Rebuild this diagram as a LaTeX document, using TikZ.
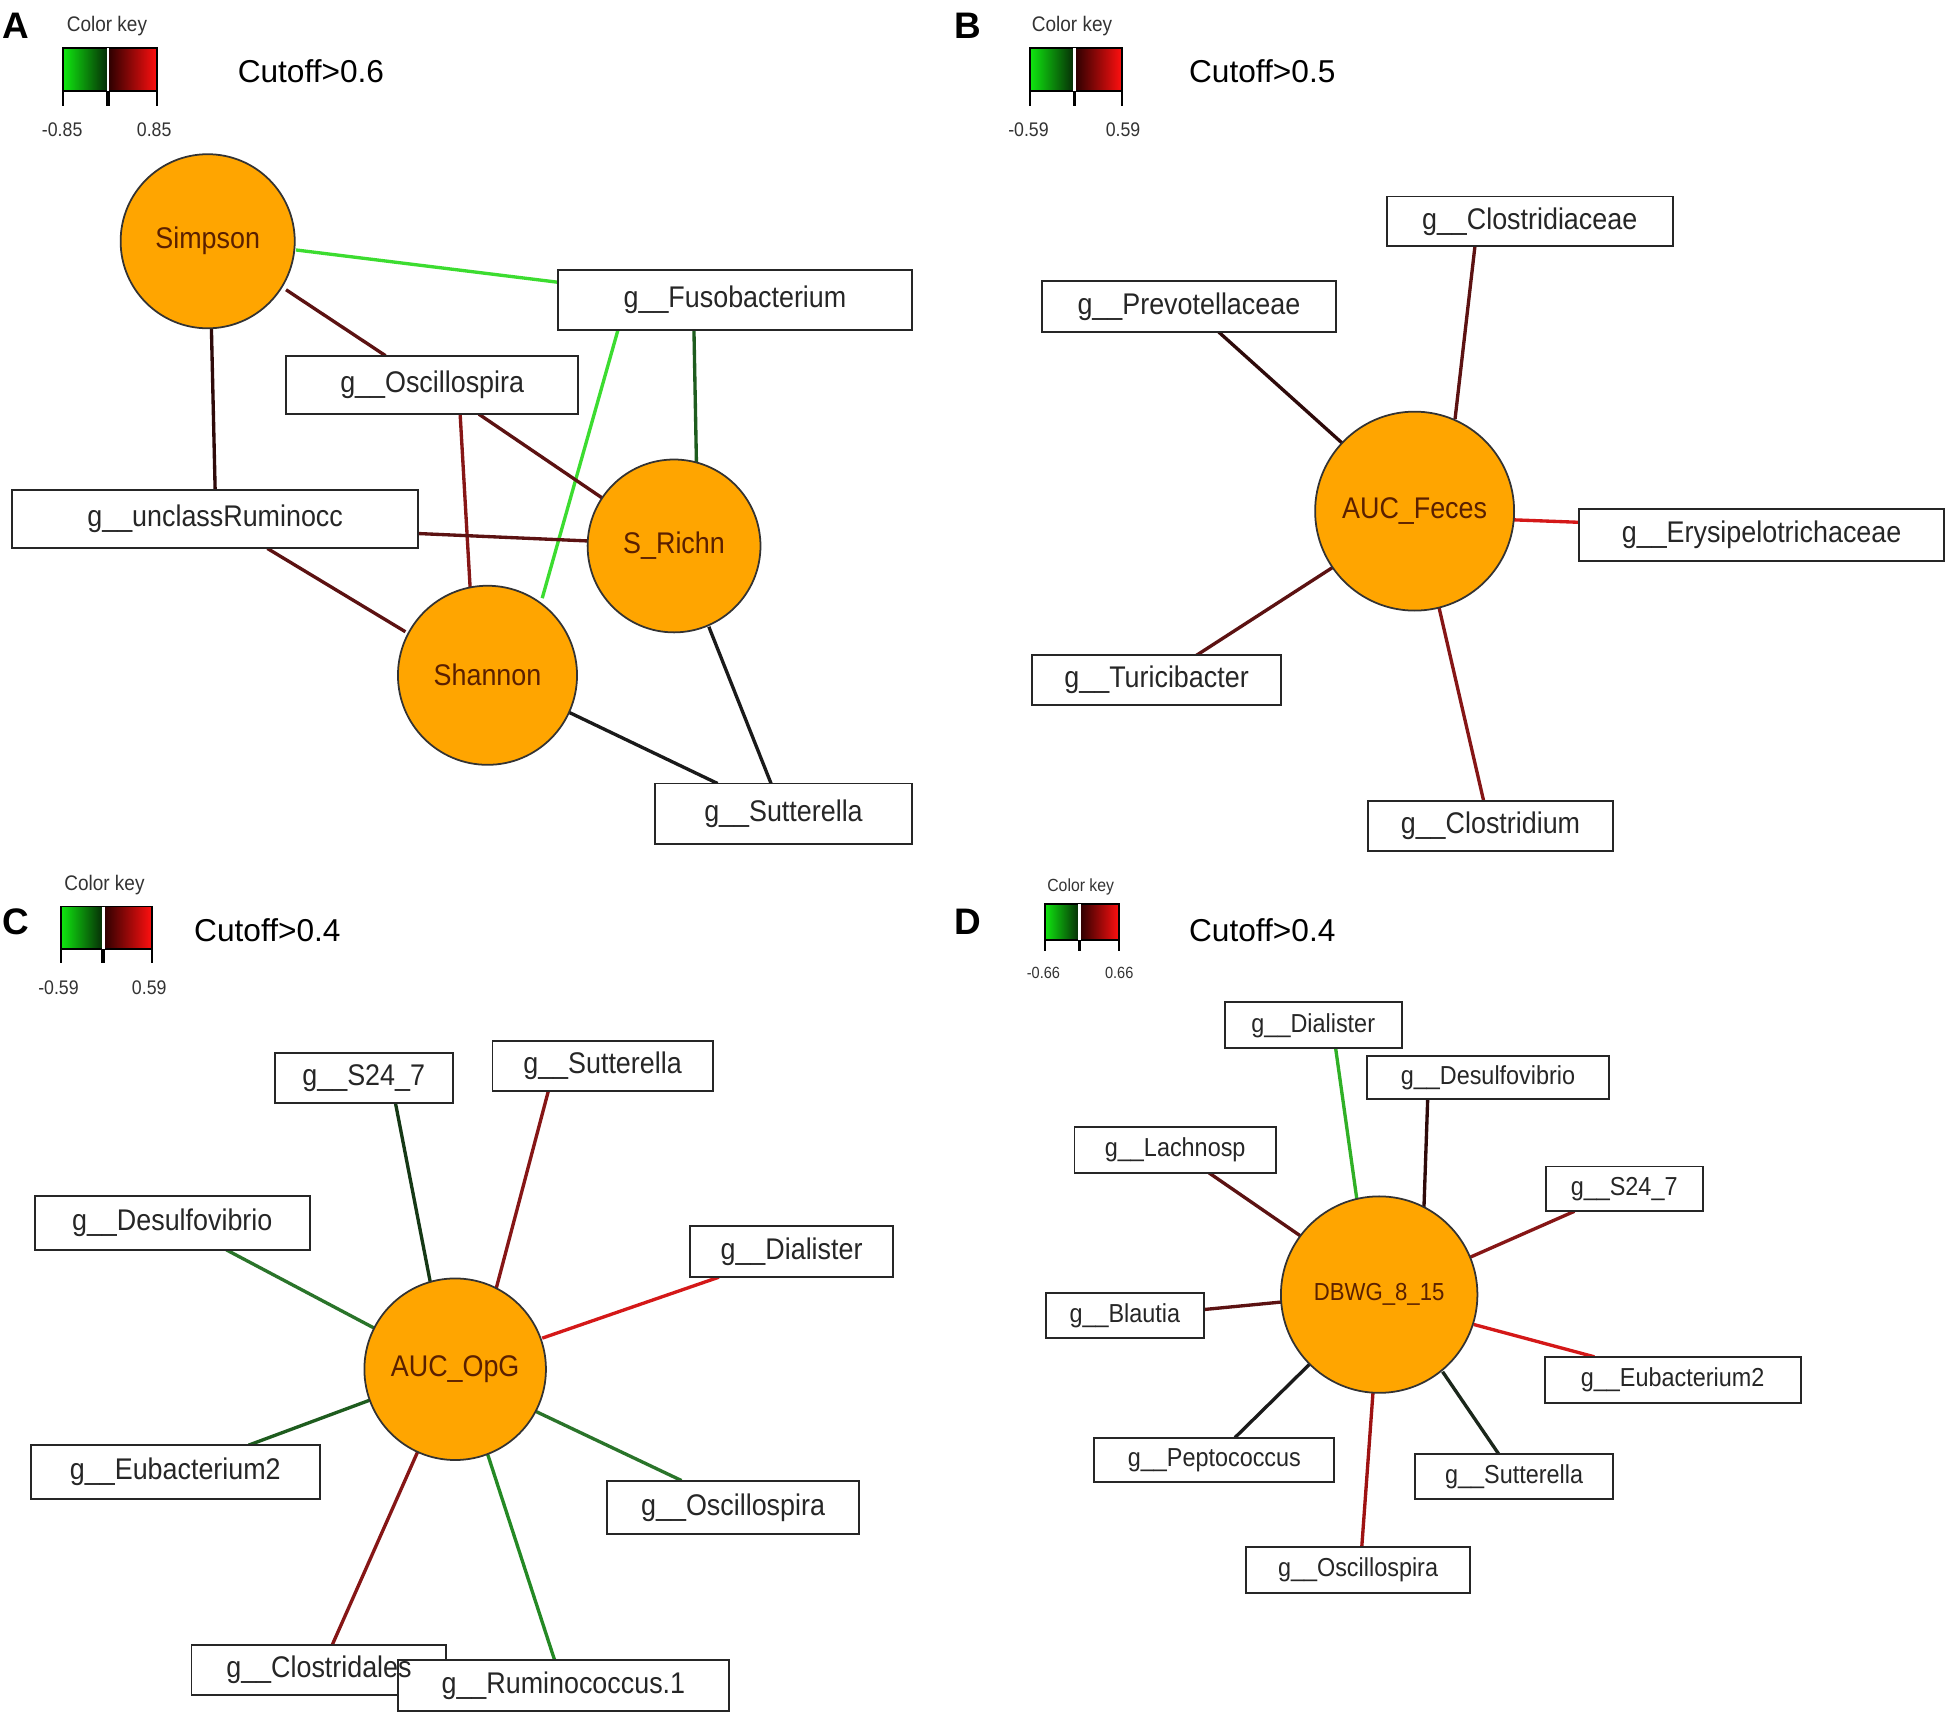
\documentclass[tikz,border=0pt]{standalone}
\usepackage{fontspec}
\setmainfont{Liberation Sans}
\newfontfamily\lblfont[FakeStretch=0.9]{Liberation Sans}
\usetikzlibrary{calc}
\pgfdeclarelayer{paper}
\pgfdeclarelayer{bg}
\pgfsetlayers{paper,bg,main}
\newdimen\dunit \dunit=0.012436cm
\definecolor{orng}{HTML}{FFA500}
\definecolor{ctext}{HTML}{5A2000}
\definecolor{kgL}{HTML}{10E810}
\definecolor{kgR}{HTML}{062A06}
\definecolor{krL}{HTML}{2A0000}
\definecolor{krR}{HTML}{FF1010}
\definecolor{eBG}{HTML}{3CDC30}
\definecolor{eDG}{HTML}{1E5C1E}
\definecolor{eMG}{HTML}{2A742A}
\definecolor{eVG}{HTML}{153815}
\definecolor{eDR}{HTML}{5C1212}
\definecolor{eMR}{HTML}{861616}
\definecolor{eR}{HTML}{D41818}
\definecolor{eVR}{HTML}{2E0A0A}
\definecolor{eBK}{HTML}{1A1A1A}
\begin{document}
\begin{tikzpicture}[x=0.012436cm,y=-0.012436cm,
  bx/.style 2 args={draw=black!85, line width=0.55pt, fill=white, inner sep=0pt,
    minimum width=#1\dunit, minimum height=#2\dunit,
    font=\lblfont\fontsize{8.5}{10}\selectfont, text=black!85},
  bxd/.style 2 args={bx={#1}{#2}, font=\lblfont\fontsize{7.4}{9}\selectfont},
  cn/.style={circle, draw=black!80, line width=0.5pt, fill=orng, inner sep=0pt,
    minimum size=#1\dunit, text=ctext, font=\lblfont\fontsize{8.5}{10}\selectfont},
  cnd/.style={cn=#1, font=\lblfont\fontsize{7}{9}\selectfont},
  ed/.style={line width=0.95pt, draw=#1},
  plab/.style={font=\bfseries\fontsize{10.5}{12}\selectfont},
  cut/.style={font=\fontsize{9}{11}\selectfont},
  ckey/.style={font=\lblfont\fontsize{#1}{8}\selectfont, text=black!80, inner sep=0pt},
  keyframe/.style={line width=0.5pt},
]
\useasboundingbox (0,0) rectangle (1568,1385);
\begin{pgfonlayer}{paper}
\fill[white] (0,0) rectangle (1568,1385);
\end{pgfonlayer}

% ================= colour keys =================
% A
\shade[left color=kgL, right color=kgR] (50.7,38.6) rectangle (86.8,73.2);
\shade[left color=krL, right color=krR] (86.8,38.6) rectangle (126.2,73.2);
\draw[keyframe] (50.7,38.6) rectangle (126.2,73.2);
\draw[white, line width=0.8pt] (86.8,38.6) -- (86.8,73.2);
\draw[keyframe] (50.7,73.2) -- (50.7,85) (126.2,73.2) -- (126.2,85);
\draw[line width=1pt] (86.8,73.2) -- (86.8,85);
\node[ckey=6] (ckA) at (86,21) {Color key};
\node[ckey=5.6] (loA) at (50,104) {-0.85};
\node[ckey=5.6] (hiA) at (124,104) {0.85};
% B
\shade[left color=kgL, right color=kgR] (828,38.6) rectangle (864,73.2);
\shade[left color=krL, right color=krR] (864,38.6) rectangle (902,73.2);
\draw[keyframe] (828,38.6) rectangle (902,73.2);
\draw[white, line width=0.8pt] (864,38.6) -- (864,73.2);
\draw[keyframe] (828,73.2) -- (828,85) (902,73.2) -- (902,85);
\draw[line width=1pt] (864,73.2) -- (864,85);
\node[ckey=6] (ckB) at (862,21) {Color key};
\node[ckey=5.6] (loB) at (827,104) {-0.59};
\node[ckey=5.6] (hiB) at (903,104) {0.59};
% C
\shade[left color=kgL, right color=kgR] (49,729) rectangle (83,763);
\shade[left color=krL, right color=krR] (83,729) rectangle (122,763);
\draw[keyframe] (49,729) rectangle (122,763);
\draw[white, line width=0.8pt] (83,729) -- (83,763);
\draw[keyframe] (49,763) -- (49,774) (122,763) -- (122,774);
\draw[line width=1pt] (83,763) -- (83,774);
\node[ckey=6] (ckC) at (84,712) {Color key};
\node[ckey=5.6] (loC) at (47,794) {-0.59};
\node[ckey=5.6] (hiC) at (120,794) {0.59};
% D
\shade[left color=kgL, right color=kgR] (840,727) rectangle (868,756);
\shade[left color=krL, right color=krR] (868,727) rectangle (900,756);
\draw[keyframe] (840,727) rectangle (900,756);
\draw[white, line width=0.7pt] (868,727) -- (868,756);
\draw[keyframe] (840,756) -- (840,765) (900,756) -- (900,765);
\draw[line width=0.9pt] (868,756) -- (868,765);
\node[ckey=5] (ckD) at (869,713) {Color key};
\node[ckey=4.6] (loD) at (839,782) {-0.66};
\node[ckey=4.6] (hiD) at (900,782) {0.66};

% ================= panel labels =================
\node[plab] (lA) at (13,21) {A};
\node[plab] (lB) at (778,21) {B};
\node[plab] (lC) at (13,741) {C};
\node[plab] (lD) at (778,741) {D};
\node[cut] (cA) at (250,57) {Cutoff>0.6};
\node[cut] (cB) at (1015,57) {Cutoff>0.5};
\node[cut] (cC) at (215,748) {Cutoff>0.4};
\node[cut] (cD) at (1015,748) {Cutoff>0.4};

% ================= panel A =================
\node[cn=140] (sim) at (167,194) {Simpson};
\node[bx={284}{48}] (fuso) at (591,241) {g\_\_Fusobacterium};
\node[bx={235}{47}] (oscA) at (347.5,309.5) {g\_\_Oscillospira};
\node[bx={326}{47}] (unc) at (173,417.5) {g\_\_unclassRuminocc};
\node[cn=139] (rich) at (542,439) {S\_Richn};
\node[cn=144] (shan) at (392,543) {Shannon};
\node[bx={206}{49}] (sutA) at (630,654.5) {g\_\_Sutterella};
\begin{pgfonlayer}{bg}
\draw[ed=eBG] ($(sim)+(71,7)$) -- ($(fuso)+(-142,-14)$);
\draw[ed=eDR] ($(sim)+(63,39)$) -- ($(oscA)+(-37.5,-23.5)$);
\draw[ed=eVR] ($(sim)+(3,70)$) -- ($(unc)+(0,-23.5)$);
\draw[ed=eDG] ($(fuso)+(-33,24)$) -- ($(rich)+(18,-67)$);
\draw[ed=eBG] ($(fuso)+(-94,24)$) -- ($(shan)+(44,-62)$);
\draw[ed=eDR] ($(oscA)+(37.5,23.5)$) -- ($(rich)+(-54,-36)$);
\draw[ed=eMR] ($(oscA)+(22.5,23.5)$) -- ($(shan)+(-14,-71)$);
\draw[ed=eDR] ($(unc)+(163,11.5)$) -- ($(rich)+(-69,-4)$);
\draw[ed=eDR] ($(unc)+(42,23.5)$) -- ($(shan)+(-66,-35)$);
\draw[ed=eBK] ($(rich)+(28,65)$) -- ($(sutA)+(-10,-24.5)$);
\draw[ed=eBK] ($(shan)+(66,30)$) -- ($(sutA)+(-53,-24.5)$);
\end{pgfonlayer}

% ================= panel B =================
\node[cn=160] (feces) at (1137.5,411) {AUC\_Feces};
\node[bx={230}{40}] (clst) at (1230,178) {g\_\_Clostridiaceae};
\node[bx={236}{41}] (prev) at (956,246.5) {g\_\_Prevotellaceae};
\node[bx={293}{42}] (erys) at (1416.5,430) {g\_\_Erysipelotrichaceae};
\node[bx={200}{40}] (turi) at (930,547) {g\_\_Turicibacter};
\node[bx={197}{40}] (clsd) at (1198.5,664) {g\_\_Clostridium};
\begin{pgfonlayer}{bg}
\draw[ed=eDR] ($(feces)+(32.5,-74)$) -- ($(clst)+(-44,20)$);
\draw[ed=eVR] ($(feces)+(-57.5,-54)$) -- ($(prev)+(24,20.5)$);
\draw[ed=eR] ($(feces)+(79.5,7)$) -- ($(erys)+(-146.5,-10)$);
\draw[ed=eDR] ($(feces)+(-65.5,45)$) -- ($(turi)+(32,-20)$);
\draw[ed=eMR] ($(feces)+(19.5,77)$) -- ($(clsd)+(-5.5,-20)$);
\end{pgfonlayer}

% ================= panel C =================
\node[cn=146] (opg) at (366,1101) {AUC\_OpG};
\node[bx={143}{40}] (s24C) at (292.5,867) {g\_\_S24\_7};
\node[bx={177}{40}] (sutC) at (484.5,857) {g\_\_Sutterella};
\node[bx={221}{43}] (desC) at (138.5,983.5) {g\_\_Desulfovibrio};
\node[bx={163}{41}] (diaC) at (636.5,1006.5) {g\_\_Dialister};
\node[bx={232}{43}] (eubC) at (141,1183.5) {g\_\_Eubacterium2};
\node[bx={203}{43}] (oscC) at (589.5,1212) {g\_\_Oscillospira};
\node[bx={205}{40}] (clobox) at (256.5,1343) {};
\node[bx={266}{41}] (rum) at (453,1355.5) {g\_\_Ruminococcus.1};
\node[font=\lblfont\fontsize{8.5}{10}\selectfont, text=black!85] (clo) at (clobox) {g\_\_Clostridales};
\begin{pgfonlayer}{bg}
\draw[ed=eVG] ($(opg)+(-20,-70)$) -- ($(s24C)+(25.5,20)$);
\draw[ed=eMR] ($(opg)+(33,-65)$) -- ($(sutC)+(-43.5,20)$);
\draw[ed=eMG] ($(opg)+(-65,-33)$) -- ($(desC)+(43.5,21.5)$);
\draw[ed=eR] ($(opg)+(70,-25)$) -- ($(diaC)+(-58.5,20.5)$);
\draw[ed=eDG] ($(opg)+(-69,25)$) -- ($(eubC)+(59,-21.5)$);
\draw[ed=eMG] ($(opg)+(65,34)$) -- ($(oscC)+(-41.5,-21.5)$);
\draw[ed=eMR] ($(opg)+(-30,66)$) -- ($(clobox)+(10.5,-20)$);
\draw[ed=eMG!85!green] ($(opg)+(26,68)$) -- ($(rum)+(-7,-20.5)$);
\end{pgfonlayer}

% ================= panel D =================
\node[cnd=158] (dbwg) at (1109,1041) {DBWG\_8\_15};
\node[bxd={142}{37}] (diaD) at (1056,824.5) {g\_\_Dialister};
\node[bxd={195}{35}] (desD) at (1196.5,866.5) {g\_\_Desulfovibrio};
\node[bxd={162}{37}] (lac) at (945,924.5) {g\_\_Lachnosp};
\node[bxd={126}{36}] (s24D) at (1306,956) {g\_\_S24\_7};
\node[bxd={127}{36}] (bla) at (904.5,1058) {g\_\_Blautia};
\node[bxd={206}{37}] (eubD) at (1345,1109.5) {g\_\_Eubacterium2};
\node[bxd={193}{36}] (pep) at (976.5,1174) {g\_\_Peptococcus};
\node[bxd={159}{36}] (sutD) at (1217.5,1187.5) {g\_\_Sutterella};
\node[bxd={180}{37}] (oscD) at (1092,1262.5) {g\_\_Oscillospira};
\begin{pgfonlayer}{bg}
\draw[ed=eBG!80!black] ($(dbwg)+(-18,-77)$) -- ($(diaD)+(18,18.5)$);
\draw[ed=eVR] ($(dbwg)+(36,-70)$) -- ($(desD)+(-48.5,17.5)$);
\draw[ed=eDR] ($(dbwg)+(-63,-47)$) -- ($(lac)+(27,18.5)$);
\draw[ed=eMR] ($(dbwg)+(73,-30)$) -- ($(s24D)+(-40,18)$);
\draw[ed=eDR] ($(dbwg)+(-79,6)$) -- ($(bla)+(63.5,-5)$);
\draw[ed=eR] ($(dbwg)+(76,24)$) -- ($(eubD)+(-63,-18.5)$);
\draw[ed=eBK] ($(dbwg)+(-56,56)$) -- ($(pep)+(16.5,-18)$);
\draw[ed=eBK!80!eDG] ($(dbwg)+(51,62)$) -- ($(sutD)+(-12.5,-18.5)$);
\draw[ed=eMR!80!red] ($(dbwg)+(-5,79)$) -- ($(oscD)+(3,-18.5)$);
\end{pgfonlayer}
\end{tikzpicture}
\end{document}
